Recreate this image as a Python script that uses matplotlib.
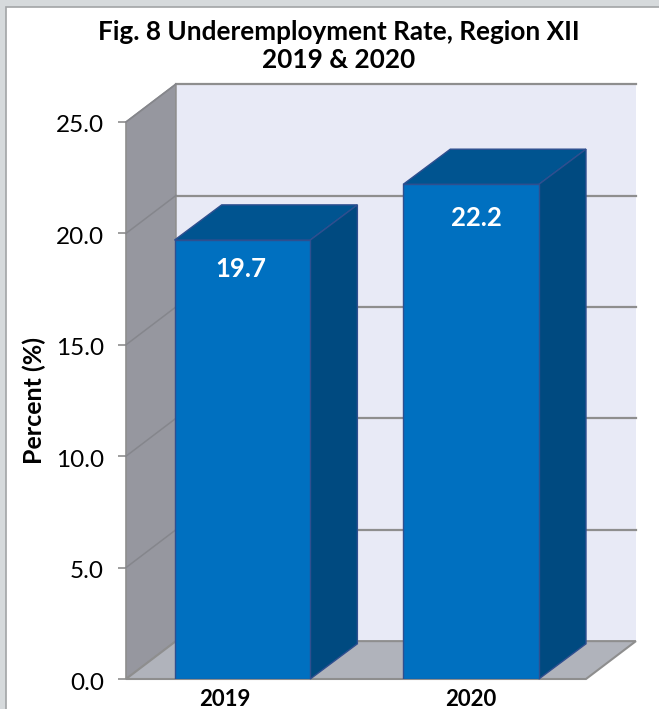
import matplotlib
matplotlib.use("Agg")
import matplotlib.pyplot as plt
from matplotlib.patches import Rectangle
from matplotlib.transforms import ScaledTranslation

plt.rcParams['font.family'] = ['Lato', 'DejaVu Sans']

years = ["2019", "2020"]
rates = [19.7, 22.2]
yticks = [0, 5, 10, 15, 20, 25]
title = "Fig. 8 Underemployment Rate, Region XII\n2019 & 2020"

# 3d look, in data units
wall_dx = 0.217
wall_dy = 1.7
bar_dx = 0.205
bar_dy = 1.58
bar_w = 0.59
xmin, xmax = -0.5, 1.5
ymax = 25

W, H = 659, 709
fig = plt.figure(figsize=(W / 100, H / 100), dpi=100, facecolor="#d6dadc")
# white card behind the chart
fig.add_artist(Rectangle((6 / W, -0.01), (W + 10) / W, (H - 7) / H + 0.01, transform=fig.transFigure,
                         facecolor="white", edgecolor="#a2a4a6", linewidth=1.2, zorder=-5))

ax = fig.add_axes([126 / W, 30 / H, 460 / W, 557 / H])
ax.set_xlim(xmin, xmax)
ax.set_ylim(0, ymax)
ax.patch.set_visible(False)
for s in ax.spines.values():
    s.set_visible(False)

grid = "#8e8e8e"
# back wall
ax.fill([xmin + wall_dx, xmax + wall_dx, xmax + wall_dx, xmin + wall_dx],
        [wall_dy, wall_dy, ymax + wall_dy, ymax + wall_dy],
        color="#e8eaf6", lw=0, clip_on=False, zorder=1)
# left wall
ax.fill([xmin, xmin + wall_dx, xmin + wall_dx, xmin],
        [0, wall_dy, ymax + wall_dy, ymax],
        facecolor="#96979f", edgecolor=grid, lw=1.2, clip_on=False, zorder=1)
# floor
ax.fill([xmin, xmax, xmax + wall_dx, xmin + wall_dx],
        [0, 0, wall_dy, wall_dy],
        facecolor="#b0b3bb", edgecolor=grid, lw=1.5, clip_on=False, zorder=1)

# gridlines, wall + back
for t in yticks[1:]:
    ax.plot([xmin + wall_dx, xmax + wall_dx], [t + wall_dy, t + wall_dy],
            color=grid, lw=1.6, clip_on=False, zorder=2)
    ax.plot([xmin, xmin + wall_dx], [t, t + wall_dy],
            color="#85868c", lw=1.1, clip_on=False, zorder=2)

edge = "#2f4f8f"
xpos = [i + 0.006 * (1 - i) for i in range(len(years))]  # first bar sits a hair to the right
ax.bar(xpos, rates, width=bar_w, color="#0070c0", edgecolor=edge, lw=1.0, zorder=5)
nudges = [(-2, 3), (5, -1)]  # value labels are not quite centred in the original, pixels
for x, val, nudge in zip(xpos, rates, nudges):
    x0 = x - bar_w / 2
    x1 = x + bar_w / 2
    # top face
    ax.fill([x0, x1, x1 + bar_dx, x0 + bar_dx],
            [val, val, val + bar_dy, val + bar_dy],
            facecolor="#005490", edgecolor=edge, lw=1.0, clip_on=False, zorder=4)
    # side face
    ax.fill([x1, x1 + bar_dx, x1 + bar_dx, x1],
            [0, bar_dy, val + bar_dy, val],
            facecolor="#004a80", edgecolor=edge, lw=1.0, clip_on=False, zorder=4)
    ax.annotate("%.1f" % val, (x, val - 1.45), xytext=nudge, textcoords="offset pixels",
                ha="center", va="center", color="white", fontsize=18.5, fontweight="bold", zorder=6)

ax.set_yticks(yticks)
ax.set_yticklabels(["%.1f" % t for t in yticks], fontsize=17.5)
ax.tick_params(axis="y", length=6, width=1.2, color=grid, pad=10)
for lab in ax.get_yticklabels():
    lab.set_transform(lab.get_transform() + ScaledTranslation(0, -2 / 100, fig.dpi_scale_trans))
ax.set_xticks(range(len(years)))
ax.set_xticklabels(years, fontsize=16, fontweight="bold")
ax.tick_params(axis="x", length=0, pad=7)
# the 2019 label sits left of its bar in the original
lab = ax.get_xticklabels()[0]
lab.set_transform(lab.get_transform() + ScaledTranslation(-16 / 100, 0, fig.dpi_scale_trans))
ax.set_ylabel("Percent (%)", fontsize=18, fontweight="bold")
ax.yaxis.set_label_coords((46 - 126) / 460, 0.5 + 0 / 557)

fig.text(339 / W, 1 - 46 / H, title, ha="center", va="center", fontsize=18.8,
         fontweight="bold", linespacing=1.25)

fig.savefig("out.png", dpi=100, facecolor=fig.get_facecolor())
